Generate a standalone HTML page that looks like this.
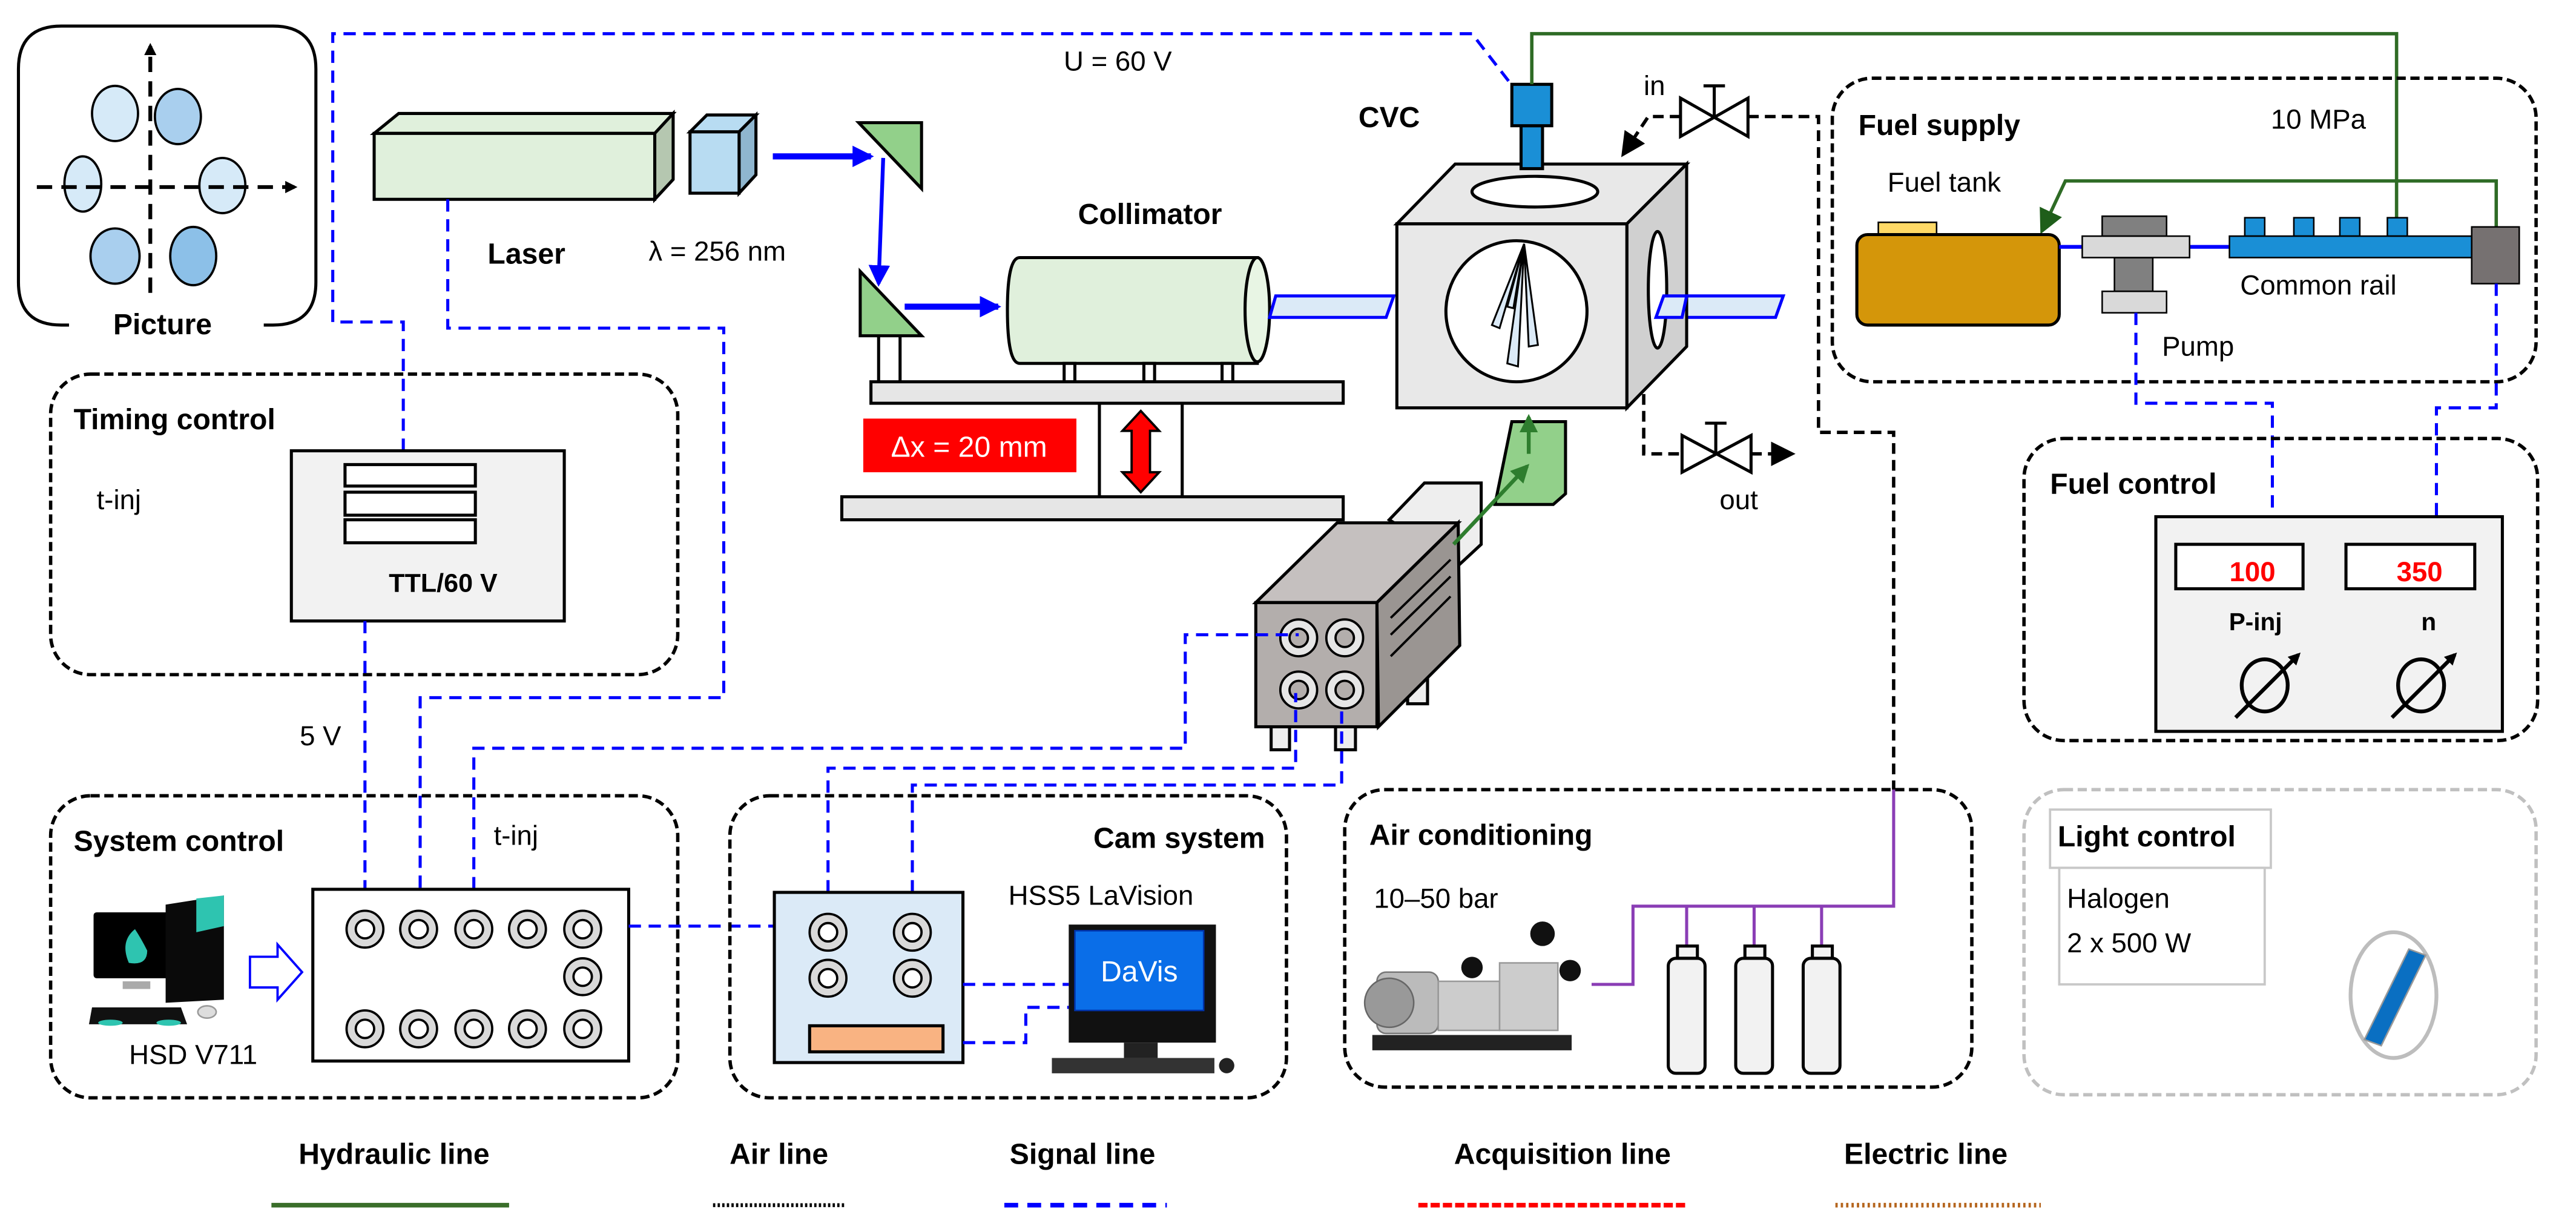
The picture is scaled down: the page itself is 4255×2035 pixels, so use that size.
<!DOCTYPE html>
<html><head><meta charset="utf-8"><style>
html,body{margin:0;padding:0;background:#fff}
svg{display:block}
text{font-family:"Liberation Sans",sans-serif;fill:#000}
.b{font-weight:bold}
.box{fill:none;stroke:#000;stroke-width:2.2;stroke-dasharray:6,3}
.sig{fill:none;stroke:#0000ff;stroke-width:2;stroke-dasharray:8,5}
.air{fill:none;stroke:#000;stroke-width:2.2;stroke-dasharray:7,4}
.o{stroke:#000;stroke-width:2}
</style></head><body>
<svg width="4255" height="2035" viewBox="0 0 1680 803.5" xmlns="http://www.w3.org/2000/svg">
<defs>
<marker id="ab" markerWidth="8" markerHeight="8" refX="6" refY="4" orient="auto" markerUnits="userSpaceOnUse"><path d="M0,0L8,4L0,8z" fill="#000"/></marker>
<marker id="abl" markerWidth="14" markerHeight="14" refX="12" refY="7" orient="auto" markerUnits="userSpaceOnUse"><path d="M0,0L14,7L0,14z" fill="#0000ff"/></marker>
<marker id="ag" markerWidth="12" markerHeight="12" refX="10" refY="6" orient="auto" markerUnits="userSpaceOnUse"><path d="M0,0L12,6L0,12z" fill="#2e7d2e"/></marker>
<marker id="agd" markerWidth="16" markerHeight="16" refX="13" refY="8" orient="auto" markerUnits="userSpaceOnUse"><path d="M0,0L16,8L0,16z" fill="#1f5e1a"/></marker>
<marker id="abk" markerWidth="16" markerHeight="16" refX="13" refY="8" orient="auto" markerUnits="userSpaceOnUse"><path d="M0,0L16,8L0,16z" fill="#000"/></marker>
</defs>

<!-- Picture box -->
<path d="M45,212 L40,212 Q12,212 12,184 L12,45 Q12,17 40,17 L178,17 Q206,17 206,45 L206,184 Q206,212 178,212 L172,212" fill="none" stroke="#000" stroke-width="2"/>
<text x="106" y="218" class="b" font-size="19" text-anchor="middle">Picture</text>
<g stroke="#000" stroke-width="1.5">
<ellipse cx="75" cy="74" rx="15" ry="18" fill="#d6eaf8"/>
<ellipse cx="116" cy="76" rx="15" ry="18" fill="#a9cfee"/>
<ellipse cx="54" cy="120" rx="12" ry="18" fill="#d6eaf8"/>
<ellipse cx="145" cy="121" rx="15" ry="18" fill="#d6eaf8"/>
<ellipse cx="75" cy="167" rx="16" ry="18" fill="#a9cfee"/>
<ellipse cx="126" cy="167" rx="15" ry="19" fill="#8cc0e8"/>
</g>
<line x1="98" y1="191" x2="98" y2="30" stroke="#000" stroke-width="2.5" stroke-dasharray="10,6" marker-end="url(#ab)"/>
<line x1="24" y1="122" x2="192" y2="122" stroke="#000" stroke-width="2.5" stroke-dasharray="10,6" marker-end="url(#ab)"/>

<!-- top signal line -->
<path class="sig" d="M263,294 L263,210 L217,210 L217,22 L960,22 L984,53"/>
<text x="729" y="46" font-size="18" text-anchor="middle">U = 60 V</text>

<!-- Laser -->
<polygon points="244,87 260,74 439,74 427,87" fill="#e0f0dc" class="o"/>
<polygon points="427,87 439,74 439,117 427,130" fill="#b5c7b0" class="o"/>
<rect x="244" y="87" width="183" height="43" fill="#e0f0dc" class="o"/>
<polygon points="450,86 461,75 493,75 482,86" fill="#b8dcf2" class="o"/>
<polygon points="482,86 493,75 493,114 482,126" fill="#8fb6cf" class="o"/>
<rect x="450" y="86" width="32" height="40" fill="#b8dcf2" class="o"/>
<text x="318" y="172" class="b" font-size="19">Laser</text>
<text x="423" y="170" font-size="18">λ = 256 nm</text>
<path class="sig" d="M292,130 L292,214 L472,214 L472,455 L274,455 L274,580"/>

<!-- beam path -->
<line x1="504" y1="102" x2="568" y2="102" stroke="#0000ff" stroke-width="4" marker-end="url(#abl)"/>
<polygon points="560,80 601,80 601,123" fill="#92d08a" class="o"/>
<line x1="576" y1="103" x2="573" y2="185" stroke="#0000ff" stroke-width="2.5" marker-end="url(#abl)"/>
<polygon points="561,177 561,219 601,219" fill="#92d08a" class="o"/>
<line x1="573" y1="219" x2="573" y2="249" class="o"/><line x1="587" y1="219" x2="587" y2="249" class="o"/>
<line x1="590" y1="200" x2="651" y2="200" stroke="#0000ff" stroke-width="4" marker-end="url(#abl)"/>

<!-- Collimator -->
<text x="750" y="146" class="b" font-size="19" text-anchor="middle">Collimator</text>
<path d="M665,168 L820,168 L820,237 L665,237 Q657,237 657,202 Q657,168 665,168z" fill="#e0f0dc" class="o"/>
<ellipse cx="820" cy="202" rx="8" ry="34" fill="#e8f5e4" class="o"/>
<g class="o" fill="#fff"><rect x="694" y="237" width="7" height="12"/><rect x="746" y="237" width="7" height="12"/><rect x="797" y="237" width="7" height="12"/></g>
<rect x="568" y="249" width="308" height="14" fill="#e6e6e6" class="o"/>
<line x1="717" y1="263" x2="717" y2="324" class="o"/><line x1="771" y1="263" x2="771" y2="324" class="o"/>
<rect x="549" y="324" width="327" height="15" fill="#e6e6e6" class="o"/>
<rect x="563" y="273" width="139" height="35" fill="#ff0000"/>
<text x="632" y="298" font-size="19" text-anchor="middle" style="fill:#fff">Δx = 20 mm</text>
<polygon points="744,268 756,281 750,281 750,308 756,308 744,321 732,308 738,308 738,281 732,281" fill="#ff0000" stroke="#000" stroke-width="1.5"/>

<!-- windows -->
<polygon points="832,193 909,193 904,207 828,207" fill="#dbeaf7" stroke="#0000ff" stroke-width="2"/>
<polygon points="1085,193 1163,193 1158,207 1080,207" fill="#dbeaf7" stroke="#0000ff" stroke-width="2"/>

<!-- CVC -->
<polygon points="911,146 949,107 1100,107 1061,146" fill="#e8e8e8" class="o"/>
<polygon points="1061,146 1100,107 1100,226 1061,266" fill="#d0d0d0" class="o"/>
<rect x="911" y="146" width="150" height="120" fill="#e8e8e8" class="o"/>
<ellipse cx="1001" cy="125" rx="41" ry="10" fill="#fff" class="o"/>
<ellipse cx="989" cy="203" rx="46" ry="46" fill="#fff" class="o"/>
<g fill="#dbeaf7" stroke="#000" stroke-width="1.2">
<polygon points="994,159 973,212 978,214"/>
<polygon points="994,159 983,237 990,239"/>
<polygon points="994,159 997,226 1003,225"/>
<polygon points="994,159 983,200 987,201"/>
</g>
<ellipse cx="1081" cy="189" rx="6" ry="38" fill="#fff" class="o"/>
<polygon points="1085,193 1100,193 1097,207 1080,207" fill="#dbeaf7" stroke="#0000ff" stroke-width="2"/>
<rect x="992" y="82" width="14" height="28" fill="#1a8fd6" class="o"/>
<rect x="986" y="55" width="26" height="27" fill="#1a8fd6" class="o"/>
<text x="906" y="83" class="b" font-size="19" text-anchor="middle">CVC</text>

<!-- green hydraulic -->
<path d="M999,55 L999,22 L1563,22 L1563,142" fill="none" stroke="#2e6b25" stroke-width="2.2"/>
<path d="M1628,148 L1628,118 L1347,118 L1332,150" fill="none" stroke="#2e6b25" stroke-width="2.2" marker-end="url(#agd)"/>

<!-- in / out valves -->
<text x="1079" y="62" font-size="18" text-anchor="middle">in</text>
<g stroke="#000" stroke-width="2" fill="#fff">
<polygon points="1096,64 1140,89 1140,64 1096,89"/>
<line x1="1118" y1="76" x2="1118" y2="56"/><line x1="1111" y1="56" x2="1125" y2="56"/>
<polygon points="1097,284 1142,308 1142,284 1097,308"/>
<line x1="1119" y1="296" x2="1119" y2="276"/><line x1="1112" y1="276" x2="1126" y2="276"/>
</g>
<path class="air" d="M1096,76 L1075,76 L1059,100" marker-end="url(#abk)"/>
<path class="air" d="M1140,76 L1186,76 L1186,282 L1235,282 L1235,515"/>
<path class="air" d="M1072,257 L1072,296 L1097,296"/>
<path class="air" d="M1142,296 L1168,296" marker-end="url(#abk)"/>
<text x="1134" y="332" font-size="18" text-anchor="middle">out</text>

<!-- green card + arrows -->
<polygon points="986,275 1021,275 1021,322 1013,329 975,329" fill="#92d08a" class="o"/>

<!-- Camera -->
<polygon points="906,339 929,315 966,315 966,355 952,368" fill="#eeeeee" class="o"/>
<rect x="829" y="474" width="12" height="15" fill="#eee" class="o"/>
<rect x="871" y="474" width="13" height="15" fill="#eee" class="o"/>
<rect x="918" y="442" width="13" height="17" fill="#eee" class="o"/>
<polygon points="819,393 872,341 951,341 898,393" fill="#c5c0bf" class="o"/>
<polygon points="898,393 951,341 952,421 899,474" fill="#9a9592" class="o"/>
<rect x="819" y="393" width="79" height="81" fill="#b3aeac" class="o"/>
<g stroke="#000" stroke-width="1.5"><line x1="907" y1="403" x2="946" y2="365"/><line x1="907" y1="414" x2="946" y2="376"/><line x1="907" y1="428" x2="946" y2="389"/></g>
<g stroke="#000" stroke-width="1.5">
<circle cx="847" cy="416" r="12" fill="#e6e6e6"/><circle cx="847" cy="416" r="6" fill="#b3aeac"/>
<circle cx="877" cy="416" r="12" fill="#e6e6e6"/><circle cx="877" cy="416" r="6" fill="#b3aeac"/>
<circle cx="847" cy="450" r="12" fill="#e6e6e6"/><circle cx="847" cy="450" r="6" fill="#b3aeac"/>
<circle cx="877" cy="450" r="12" fill="#e6e6e6"/><circle cx="877" cy="450" r="6" fill="#b3aeac"/>
</g>
<line x1="948" y1="355" x2="996" y2="304" stroke="#2e7d2e" stroke-width="2.5" marker-end="url(#ag)"/>
<line x1="997" y1="296" x2="997" y2="272" stroke="#2e7d2e" stroke-width="2.5" marker-end="url(#ag)"/>

<!-- Timing control -->
<rect x="33" y="244" width="409" height="196" rx="26" class="box"/>
<text x="48" y="280" class="b" font-size="19">Timing control</text>
<text x="63" y="332" font-size="18">t-inj</text>
<rect x="190" y="294" width="178" height="111" fill="#f2f2f2" class="o"/>
<g fill="#fff" class="o"><rect x="225" y="303" width="85" height="14"/><rect x="225" y="321" width="85" height="15"/><rect x="225" y="339" width="85" height="15"/></g>
<text x="289" y="386" class="b" font-size="17" text-anchor="middle">TTL/60 V</text>
<path class="sig" d="M238,405 L238,580"/>
<text x="209" y="486" font-size="18" text-anchor="middle">5 V</text>

<!-- System control -->
<rect x="33" y="519" width="409" height="197" rx="26" class="box"/>
<text x="48" y="555" class="b" font-size="19">System control</text>
<text x="322" y="551" font-size="18">t-inj</text>
<path class="sig" d="M309,580 L309,488 L773,488 L773,414 L847,414"/>
<rect x="204" y="580" width="206" height="112" fill="#fff" class="o"/>
<g stroke="#000" stroke-width="1.5">
<g fill="#d9d9d9">
<ellipse cx="238" cy="606" rx="12" ry="12"/><ellipse cx="273" cy="606" rx="12" ry="12"/><ellipse cx="309" cy="606" rx="12" ry="12"/><ellipse cx="344" cy="606" rx="12" ry="12"/><ellipse cx="380" cy="606" rx="12" ry="12"/>
<ellipse cx="380" cy="637" rx="12" ry="12"/>
<ellipse cx="238" cy="671" rx="12" ry="12"/><ellipse cx="273" cy="671" rx="12" ry="12"/><ellipse cx="309" cy="671" rx="12" ry="12"/><ellipse cx="344" cy="671" rx="12" ry="12"/><ellipse cx="380" cy="671" rx="12" ry="12"/>
</g>
<g fill="#fff">
<circle cx="238" cy="606" r="6"/><circle cx="273" cy="606" r="6"/><circle cx="309" cy="606" r="6"/><circle cx="344" cy="606" r="6"/><circle cx="380" cy="606" r="6"/>
<circle cx="380" cy="637" r="6"/>
<circle cx="238" cy="671" r="6"/><circle cx="273" cy="671" r="6"/><circle cx="309" cy="671" r="6"/><circle cx="344" cy="671" r="6"/><circle cx="380" cy="671" r="6"/>
</g></g>
<!-- PC -->
<rect x="61" y="595" width="52" height="43" fill="#000" rx="2"/>
<path d="M88,606 Q78,614 84,628 Q96,630 96,620 Q92,612 88,606z" fill="#2ec4b0"/>
<rect x="80" y="640" width="18" height="5" fill="#aaa"/>
<polygon points="108,590 146,584 146,652 108,654" fill="#0a0a0a"/>
<polygon points="128,586 146,584 146,604 128,608" fill="#2ec4b0"/>
<path d="M60,657 L118,657 L122,668 L58,668z" fill="#111"/>
<ellipse cx="72" cy="667" rx="8" ry="2" fill="#2ec4b0"/><ellipse cx="110" cy="667" rx="8" ry="2" fill="#2ec4b0"/>
<ellipse cx="135" cy="660" rx="6" ry="4" fill="#ddd" stroke="#999"/>
<text x="126" y="694" font-size="18" text-anchor="middle">HSD V711</text>
<polygon points="163,624 181,624 181,616 197,634 181,652 181,644 163,644" fill="#fff" stroke="#0000ff" stroke-width="1.5"/>
<line x1="410" y1="604" x2="505" y2="604" class="sig"/>

<!-- Cam system -->
<rect x="476" y="519" width="363" height="197" rx="26" class="box"/>
<text x="825" y="553" class="b" font-size="19" text-anchor="end">Cam system</text>
<text x="718" y="590" font-size="18" text-anchor="middle">HSS5 LaVision</text>
<path class="sig" d="M540,582 L540,501 L845,501 L845,452"/>
<path class="sig" d="M595,582 L595,512 L875,512 L875,461"/>
<rect x="505" y="582" width="123" height="111" fill="#dbeaf7" class="o"/>
<g stroke="#000" stroke-width="1.5">
<g fill="#d9d9d9"><ellipse cx="540" cy="608" rx="12" ry="12"/><ellipse cx="595" cy="608" rx="12" ry="12"/><ellipse cx="540" cy="638" rx="12" ry="12"/><ellipse cx="595" cy="638" rx="12" ry="12"/></g>
<g fill="#fff"><circle cx="540" cy="608" r="6"/><circle cx="595" cy="608" r="6"/><circle cx="540" cy="638" r="6"/><circle cx="595" cy="638" r="6"/></g>
</g>
<rect x="528" y="669" width="87" height="17" fill="#f9b382" class="o"/>
<path class="sig" d="M628,642 L697,642"/>
<path class="sig" d="M628,680 L669,680 L669,657 L697,657"/>
<rect x="697" y="603" width="96" height="77" fill="#111"/>
<rect x="701" y="607" width="84" height="52" fill="#0a6ee8" stroke="#0033aa"/>
<text x="743" y="640" font-size="19" text-anchor="middle" style="fill:#fff">DaVis</text>
<rect x="733" y="680" width="22" height="10" fill="#222"/>
<rect x="686" y="690" width="106" height="10" fill="#333"/>
<ellipse cx="800" cy="695" rx="5" ry="5" fill="#222"/>

<!-- Fuel supply -->
<rect x="1195" y="51" width="459" height="198" rx="26" class="box"/>
<text x="1212" y="88" class="b" font-size="19">Fuel supply</text>
<text x="1512" y="84" font-size="18" text-anchor="middle">10 MPa</text>
<text x="1268" y="125" font-size="18" text-anchor="middle">Fuel tank</text>
<rect x="1225" y="145" width="38" height="9" fill="#ffd966" stroke="#000" stroke-width="1"/>
<rect x="1211" y="153" width="132" height="59" rx="7" fill="#d4960a" class="o"/>
<line x1="1343" y1="161" x2="1358" y2="161" stroke="#0000ff" stroke-width="2.5"/>
<line x1="1427" y1="161" x2="1454" y2="161" stroke="#0000ff" stroke-width="2.5"/>
<rect x="1371" y="141" width="42" height="13" fill="#808080" stroke="#000" stroke-width="1"/>
<rect x="1379" y="168" width="25" height="22" fill="#808080" stroke="#000" stroke-width="1"/>
<rect x="1358" y="154" width="70" height="14" fill="#d9d9d9" stroke="#000" stroke-width="1"/>
<rect x="1371" y="190" width="42" height="14" fill="#d9d9d9" stroke="#000" stroke-width="1"/>
<text x="1410" y="232" font-size="18">Pump</text>
<g fill="#1a8fd6" stroke="#000" stroke-width="1">
<rect x="1464" y="142" width="13" height="12"/><rect x="1496" y="142" width="13" height="12"/><rect x="1526" y="142" width="13" height="12"/><rect x="1557" y="142" width="13" height="12"/>
<rect x="1454" y="154" width="158" height="14"/>
</g>
<rect x="1612" y="148" width="31" height="37" fill="#767171" stroke="#000" stroke-width="1"/>
<text x="1512" y="192" font-size="18" text-anchor="middle">Common rail</text>
<path class="sig" d="M1393,204 L1393,263 L1482,263 L1482,337"/>
<path class="sig" d="M1628,185 L1628,266 L1589,266 L1589,337"/>

<!-- Fuel control -->
<rect x="1320" y="286" width="335" height="197" rx="26" class="box"/>
<text x="1337" y="322" class="b" font-size="19">Fuel control</text>
<rect x="1406" y="337" width="226" height="140" fill="#f2f2f2" class="o"/>
<rect x="1419" y="355" width="83" height="29" fill="#fff" class="o"/>
<rect x="1530" y="355" width="84" height="29" fill="#fff" class="o"/>
<text x="1469" y="379" class="b" font-size="18" text-anchor="middle" style="fill:#ff0000">100</text>
<text x="1578" y="379" class="b" font-size="18" text-anchor="middle" style="fill:#ff0000">350</text>
<text x="1471" y="411" class="b" font-size="16" text-anchor="middle">P-inj</text>
<text x="1584" y="411" class="b" font-size="16" text-anchor="middle">n</text>
<g fill="none" stroke="#000" stroke-width="2.5">
<ellipse cx="1477" cy="447" rx="15" ry="17"/><ellipse cx="1579" cy="447" rx="15" ry="17"/>
</g>
<line x1="1458" y1="468" x2="1499" y2="427" stroke="#000" stroke-width="2.5" marker-end="url(#ab)"/>
<line x1="1560" y1="468" x2="1601" y2="427" stroke="#000" stroke-width="2.5" marker-end="url(#ab)"/>

<!-- Air conditioning -->
<rect x="877" y="515" width="409" height="194" rx="26" class="box"/>
<text x="893" y="551" class="b" font-size="19">Air conditioning</text>
<text x="896" y="592" font-size="18">10–50 bar</text>
<path d="M1235,515 L1235,591 L1065,591 L1065,642 L1038,642" fill="none" stroke="#8a3db5" stroke-width="2"/>
<g stroke="#8a3db5" stroke-width="2"><line x1="1100" y1="591" x2="1100" y2="618"/><line x1="1144" y1="591" x2="1144" y2="618"/><line x1="1188" y1="591" x2="1188" y2="618"/></g>
<g fill="#f2f2f2" class="o">
<rect x="1094" y="617" width="13" height="8"/><rect x="1138" y="617" width="13" height="8"/><rect x="1182" y="617" width="13" height="8"/>
<rect x="1088" y="625" width="24" height="75" rx="5"/><rect x="1132" y="625" width="24" height="75" rx="5"/><rect x="1176" y="625" width="24" height="75" rx="5"/>
</g>
<!-- compressor -->
<rect x="895" y="675" width="130" height="10" fill="#222"/>
<rect x="898" y="634" width="40" height="40" rx="6" fill="#bbb" stroke="#777"/>
<circle cx="906" cy="654" r="16" fill="#999" stroke="#666"/>
<rect x="938" y="640" width="40" height="32" fill="#ccc" stroke="#999"/>
<rect x="978" y="628" width="38" height="44" fill="#ccc" stroke="#999"/>
<circle cx="960" cy="631" r="7" fill="#111"/><circle cx="1006" cy="609" r="8" fill="#111"/><circle cx="1024" cy="633" r="7" fill="#111"/>

<!-- Light control -->
<rect x="1320" y="515" width="334" height="199" rx="26" fill="none" stroke="#c0c0c0" stroke-width="2.2" stroke-dasharray="6,3"/>
<rect x="1337" y="528" width="144" height="38" fill="#fff" stroke="#c8c8c8" stroke-width="1.5"/>
<rect x="1343" y="566" width="134" height="76" fill="#fff" stroke="#c8c8c8" stroke-width="1.5"/>
<text x="1342" y="552" class="b" font-size="19">Light control</text>
<text x="1348" y="592" font-size="18">Halogen</text>
<text x="1348" y="621" font-size="18">2 x 500 W</text>
<ellipse cx="1561" cy="649" rx="28" ry="41" fill="#fff" stroke="#bdbdbd" stroke-width="2.5"/>
<polygon points="1571,619 1582,623 1553,682 1542,678" fill="#0a6fc2" stroke="#999" stroke-width="1"/>

<!-- Legend -->
<g class="b" font-size="19" text-anchor="middle">
<text x="257" y="759">Hydraulic line</text>
<text x="508" y="759">Air line</text>
<text x="706" y="759">Signal line</text>
<text x="1019" y="759">Acquisition line</text>
<text x="1256" y="759">Electric line</text>
</g>
<line x1="177" y1="786" x2="332" y2="786" stroke="#3a6e2a" stroke-width="3"/>
<line x1="465" y1="786" x2="551" y2="786" stroke="#000" stroke-width="2.5" stroke-dasharray="1.5,1.5"/>
<line x1="655" y1="786" x2="761" y2="786" stroke="#0000ff" stroke-width="3" stroke-dasharray="9,6"/>
<line x1="925" y1="786" x2="1101" y2="786" stroke="#ff0000" stroke-width="3" stroke-dasharray="6,2"/>
<line x1="1197" y1="786" x2="1331" y2="786" stroke="#b5651d" stroke-width="3" stroke-dasharray="1.5,2"/>
</svg>
</body></html>
